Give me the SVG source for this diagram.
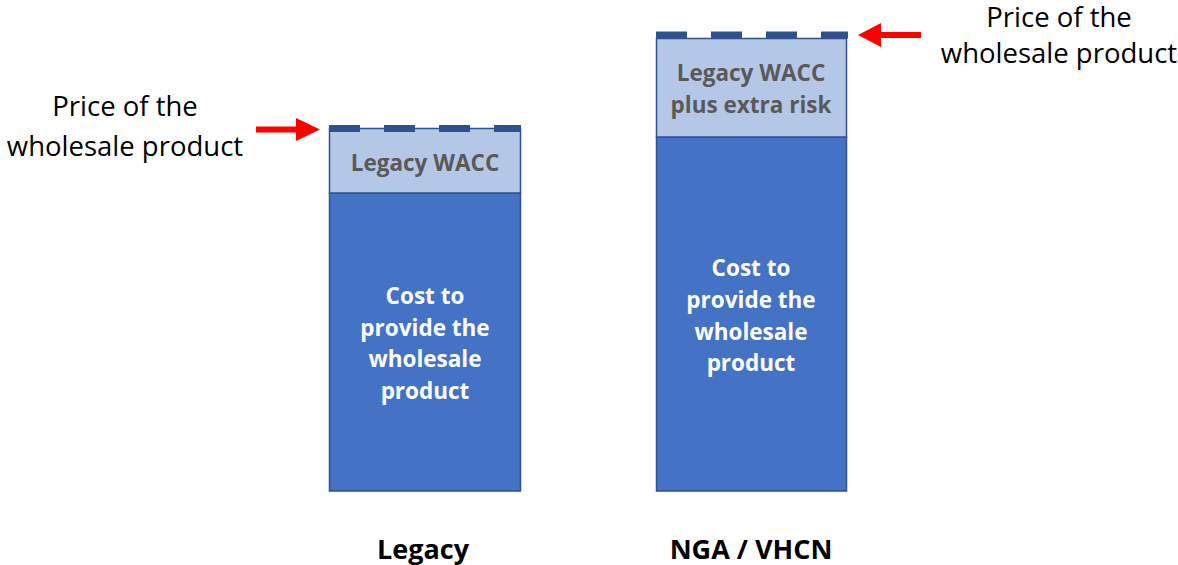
<svg xmlns="http://www.w3.org/2000/svg" width="1178" height="565" viewBox="0 0 1178 565">
<style>
.lbl{font-family:"Open Sans","Liberation Sans",sans-serif;font-size:27.5px;fill:#000;text-anchor:middle}
.wacc{font-family:"Open Sans","Liberation Sans",sans-serif;font-size:22.5px;font-weight:bold;fill:#595959;text-anchor:middle}
.cost{font-family:"Open Sans","Liberation Sans",sans-serif;font-size:22.5px;font-weight:bold;fill:#fff;text-anchor:middle}
.cap{font-family:"Open Sans","Liberation Sans",sans-serif;font-size:27px;font-weight:bold;fill:#000;text-anchor:middle}
.dark{fill:#4472C4;stroke:#2F528F;stroke-width:1.5}
.light{fill:#B4C7E7;stroke:#2F528F;stroke-width:1.5}
.dash{stroke:#2F528F;stroke-width:7;stroke-dasharray:31 24;fill:none}
.arrow{fill:#FF0000}
</style>
<rect width="1178" height="565" fill="#fff"/>
<g id="legacy-bar">
<rect class="dark" x="329.5" y="193" width="191" height="298"/>
<rect class="light" x="329.5" y="128.5" width="191" height="64.5"/>
<line class="dash" x1="329" y1="128.5" x2="521" y2="128.5"/>
<text class="wacc" x="425" y="171">Legacy WACC</text>
<text class="cost" x="425" y="304">Cost to</text>
<text class="cost" x="425" y="336">provide the</text>
<text class="cost" x="425" y="367">wholesale</text>
<text class="cost" x="425" y="399">product</text>
</g>
<g id="nga-bar">
<rect class="dark" x="656.5" y="137" width="190" height="354"/>
<rect class="light" x="656.5" y="38.5" width="190" height="98.5"/>
<line class="dash" x1="656" y1="35" x2="848" y2="35"/>
<text class="wacc" x="751" y="81">Legacy WACC</text>
<text class="wacc" x="751" y="113">plus extra risk</text>
<text class="cost" x="751" y="276">Cost to</text>
<text class="cost" x="751" y="308">provide the</text>
<text class="cost" x="751" y="340">wholesale</text>
<text class="cost" x="751" y="371">product</text>
</g>
<g id="price-left">
<text class="lbl" x="125" y="116">Price of the</text>
<text class="lbl" x="125" y="156">wholesale product</text>
</g>
<g id="price-right">
<text class="lbl" x="1059" y="27">Price of the</text>
<text class="lbl" x="1059" y="63">wholesale product</text>
</g>
<g id="caption-legacy"><text class="cap" x="423" y="559">Legacy</text></g>
<g id="caption-nga"><text class="cap" x="751" y="559">NGA / VHCN</text></g>
<g id="connectors">
<path class="arrow" d="M256,126.5 H296 V118 L320,129.5 L296,141 V132.5 H256 Z"/>
<path class="arrow" d="M921,32 H881 V23 L858,35 L881,47 V38 H921 Z"/>
</g>
</svg>
